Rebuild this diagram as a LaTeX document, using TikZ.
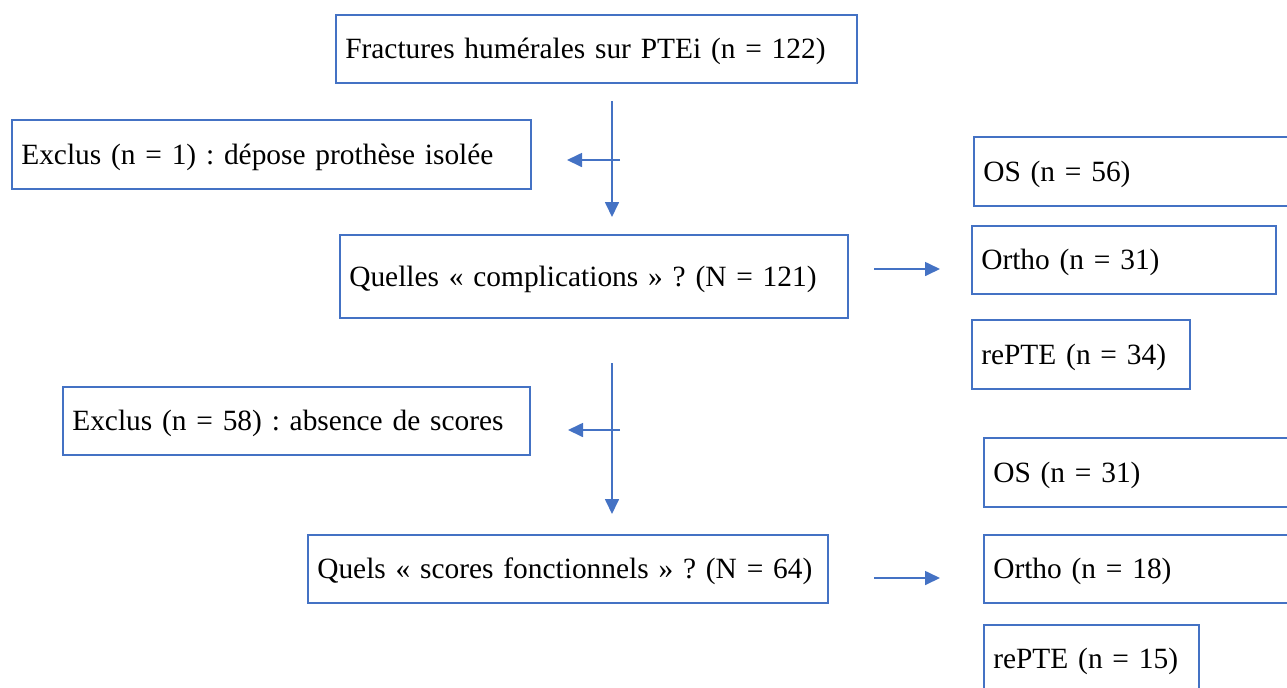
\documentclass[tikz,border=0pt]{standalone}
\usepackage{fontspec}
\setmainfont{Liberation Serif}
\usetikzlibrary{arrows.meta}
\definecolor{bblue}{HTML}{4472C4}
\frenchspacing
\newcommand\myboxfont{\fontsize{14.7}{17}\selectfont\frenchspacing\spaceskip=0.22em plus 0.1em\relax}
\begin{document}
\begin{tikzpicture}[x=0.5pt,y=-0.5pt,
  box/.style={draw=bblue,line width=0.8pt,rectangle,anchor=north west,
    inner xsep=4.75pt,inner ysep=0pt,align=left,
    font=\myboxfont,text height=9.7pt,text depth=0pt},
  arr/.style={draw=bblue,line width=0.85pt,-{Triangle[length=7.5pt,width=7pt]}}]
\useasboundingbox (0,0) rectangle (1287,687);
\clip (0,0) rectangle (1287,687);
\node[box,minimum width=260.5pt,minimum height=34pt,text width=251pt] (top) at (335,14) {Fractures humérales sur PTEi (n = 122)};
\node[box,minimum width=259.5pt,minimum height=34.5pt,text width=250pt] (ex1) at (11,119) {Exclus (n = 1) : dépose prothèse isolée};
\node[box,minimum width=254pt,minimum height=41.5pt,text width=244.5pt] (q1) at (339,234) {Quelles « complications » ? (N = 121)};
\node[box,minimum width=165pt,minimum height=34.5pt,text width=155.5pt] (os1) at (973,136) {OS (n = 56)};
\node[box,minimum width=152pt,minimum height=34pt,text width=142.5pt] (or1) at (971,225) {Ortho (n = 31)};
\node[box,minimum width=109pt,minimum height=34.5pt,text width=99.5pt] (re1) at (971,319) {rePTE (n = 34)};
\node[box,minimum width=233.5pt,minimum height=34pt,text width=224pt] (ex2) at (62,386) {Exclus (n = 58) : absence de scores};
\node[box,minimum width=260pt,minimum height=34pt,text width=250.5pt] (q2) at (307,534) {Quels « scores fonctionnels » ? (N = 64)};
\node[box,minimum width=160pt,minimum height=34.5pt,text width=150.5pt] (os2) at (983,437) {OS (n = 31)};
\node[box,minimum width=160pt,minimum height=34pt,text width=150.5pt] (or2) at (983,534) {Ortho (n = 18)};
\node[box,minimum width=107.5pt,minimum height=34pt,text width=98pt] (re2) at (983,624) {rePTE (n = 15)};
\coordinate (v1a) at (612,101);
\coordinate (v1b) at (612,217);
\coordinate (h1a) at (620,160);
\coordinate (h1b) at (567,160);
\coordinate (v2a) at (612,363);
\coordinate (v2b) at (612,514);
\coordinate (h2a) at (620,430);
\coordinate (h2b) at (568,430);
\coordinate (r1a) at (874,269);
\coordinate (r1b) at (940,269);
\coordinate (r2a) at (874,578);
\coordinate (r2b) at (940,578);
\draw[arr] (v1a) -- (v1b);
\draw[arr] (h1a) -- (h1b);
\draw[arr] (v2a) -- (v2b);
\draw[arr] (h2a) -- (h2b);
\draw[arr] (r1a) -- (r1b);
\draw[arr] (r2a) -- (r2b);
\end{tikzpicture}
\end{document}
